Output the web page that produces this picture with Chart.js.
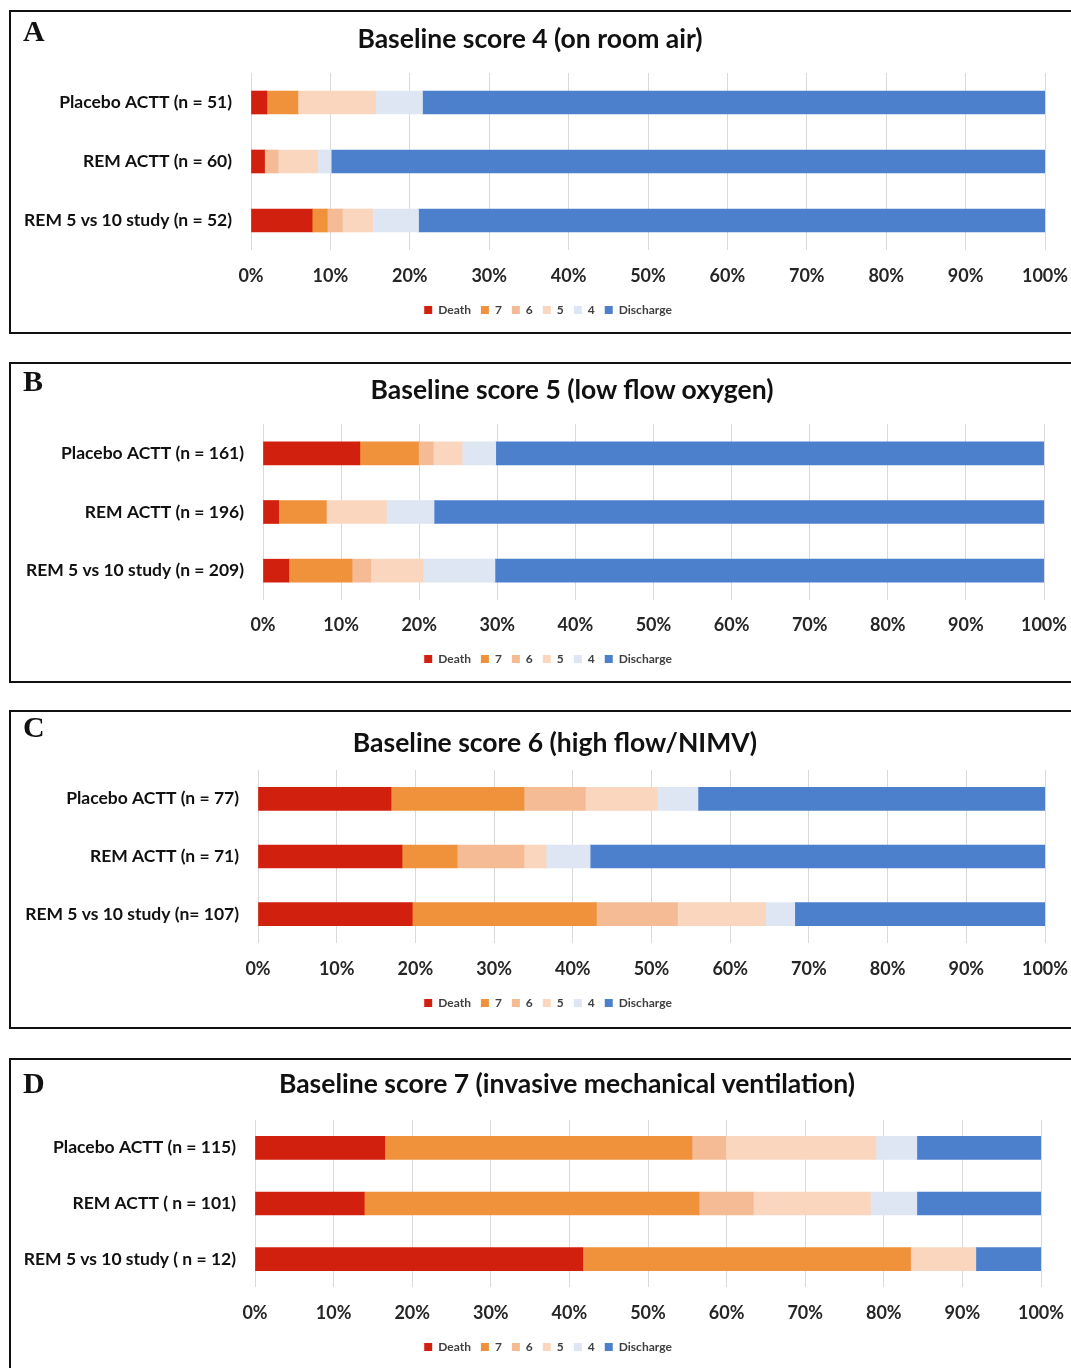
<!DOCTYPE html>
<html>
<head>
<meta charset="utf-8">
<script src="https://cdn.jsdelivr.net/npm/chart.js@4.4.1/dist/chart.umd.min.js"></script>
<style>
  body { margin: 0; width: 1071px; height: 1368px; overflow: hidden; background: #fff; position: relative; }
  .panel { position: absolute; left: 9px; width: 1090px; border: 2px solid #111; box-sizing: border-box; }
  .panel canvas { position: absolute; left: 0; top: 0; }
  .letter { position: absolute; font-family: "Liberation Serif", "Times New Roman", serif; font-weight: bold; font-size: 30px; color: #111; }
  .title { position: absolute; transform: translate(-50%, -50%); white-space: nowrap; font-family: Lato, "Open Sans", sans-serif; font-weight: bold; font-size: 26.5px; color: #111; }
</style>
</head>
<body>
<script>
// categories per panel
const categories = [
  ["Placebo ACTT (n = 51)", "REM ACTT (n = 60)", "REM 5 vs 10 study (n = 52)"],
  ["Placebo ACTT (n = 161)", "REM ACTT (n = 196)", "REM 5 vs 10 study (n = 209)"],
  ["Placebo ACTT (n = 77)", "REM ACTT (n = 71)", "REM 5 vs 10 study (n= 107)"],
  ["Placebo ACTT (n = 115)", "REM ACTT ( n = 101)", "REM 5 vs 10 study ( n = 12)"]
];
const titles = [
  "Baseline score 4 (on room air)",
  "Baseline score 5 (low flow oxygen)",
  "Baseline score 6 (high flow/NIMV)",
  "Baseline score 7 (invasive mechanical ventilation)"
];
const letters = ["A", "B", "C", "D"];
const seriesNames = ["Death", "7", "6", "5", "4", "Discharge"];

// percentages, one row per panel
const death     = [[2.0, 1.7, 7.7],    [12.4, 2.0, 3.3],  [16.9, 18.3, 19.6], [16.5, 13.9, 41.7]];
const score7    = [[3.9, 0, 1.9],      [7.5, 6.1, 8.1],   [16.9, 7.0, 23.4],  [39.1, 42.6, 41.7]];
const score6    = [[0, 1.7, 1.9],      [1.9, 0, 2.4],     [7.8, 8.5, 10.3],   [4.3, 6.9, 0]];
const score5    = [[9.8, 5.0, 3.8],    [3.7, 7.7, 6.7],   [9.1, 2.8, 11.2],   [19.1, 14.9, 8.3]];
const score4    = [[5.9, 1.7, 5.8],    [4.3, 6.1, 9.2],   [5.2, 5.6, 3.7],    [5.2, 5.9, 0]];
const discharge = [[78.4, 89.9, 78.9], [70.2, 78.1, 70.3], [44.1, 57.8, 31.8], [15.8, 15.8, 8.3]];

const tickValues = [0, 10, 20, 30, 40, 50, 60, 70, 80, 90, 100];

const colors = ["#D2200F", "#F0913C", "#F5BB94", "#FAD6BE", "#DEE6F4", "#4C80CD"];
const font = "Lato, 'Open Sans', sans-serif";

// layout of each panel (page pixels)
const canvasLeft = 11;
const canvasW = 1086;
const panels = [
  { top: 10,   bottom: 334,  padTop: 61, xh: 44, tickPad: 15, padBottom: 6,  plotL: 251, plotR: 1045, titleX: 530, titleY: 38,   letterY: 14 },
  { top: 362,  bottom: 683,  padTop: 60, xh: 43, tickPad: 14, padBottom: 6,  plotL: 263, plotR: 1044, titleX: 572, titleY: 389,  letterY: 364 },
  { top: 710,  bottom: 1029, padTop: 58, xh: 44, tickPad: 15, padBottom: 8,  plotL: 258, plotR: 1045, titleX: 555, titleY: 742,  letterY: 710 },
  { top: 1058, bottom: 1380, padTop: 60, xh: 44, tickPad: 15, padBottom: 15, plotL: 255, plotR: 1041, titleX: 567, titleY: 1083, letterY: 1066 }
];
const legendX = 548;

const series = [death, score7, score6, score5, score4, discharge];

// move the legend so it sits where the original has it
const legendShift = {
  id: "legendShift",
  afterLayout: function(chart) {
    var l = chart.legend;
    var dx = (legendX - canvasLeft) - (l.left + l.right) / 2;
    l.left += dx;
    l.right += dx;
  }
};

panels.forEach(function(p, i) {
  var div = document.createElement("div");
  div.className = "panel";
  div.style.top = p.top + "px";
  div.style.height = (p.bottom - p.top) + "px";
  document.body.appendChild(div);

  var h = p.bottom - p.top - 4;
  var canvas = document.createElement("canvas");
  canvas.width = canvasW;
  canvas.height = h;
  canvas.style.width = canvasW + "px";
  canvas.style.height = h + "px";
  div.appendChild(canvas);

  var letter = document.createElement("div");
  letter.className = "letter";
  letter.textContent = letters[i];
  letter.style.left = "23px";
  letter.style.top = p.letterY + "px";
  document.body.appendChild(letter);

  var title = document.createElement("div");
  title.className = "title";
  title.textContent = titles[i];
  title.style.left = p.titleX + "px";
  title.style.top = p.titleY + "px";
  document.body.appendChild(title);

  new Chart(canvas.getContext("2d"), {
    type: "bar",
    data: {
      labels: categories[i],
      datasets: seriesNames.map(function(name, k) {
        return {
          label: name,
          data: series[k][i],
          backgroundColor: colors[k],
          borderWidth: 0,
          barThickness: 23
        };
      })
    },
    options: {
      indexAxis: "y",
      responsive: false,
      animation: false,
      layout: { padding: { top: p.padTop, bottom: p.padBottom, left: 0, right: canvasW - (p.plotR - canvasLeft) } },
      plugins: {
        title: { display: false },
        tooltip: { enabled: false },
        legend: {
          position: "bottom",
          labels: {
            boxWidth: 8,
            boxHeight: 8,
            padding: 10,
            color: "#404040",
            font: { family: font, size: 12, weight: "bold" }
          }
        }
      },
      scales: {
        x: {
          stacked: true,
          min: 0,
          max: 100,
          afterBuildTicks: function(axis) {
            axis.ticks = tickValues.map(function(v) { return { value: v }; });
          },
          afterFit: function(axis) { axis.height = p.xh; },
          ticks: {
            padding: p.tickPad,
            color: "#262626",
            font: { family: font, size: 18, weight: "bold" },
            callback: function(v) { return v + "%"; }
          },
          grid: { color: "#D9D9D9", drawTicks: false },
          border: { display: false }
        },
        y: {
          stacked: true,
          afterFit: function(axis) { axis.width = p.plotL - canvasLeft; },
          ticks: {
            padding: 19,
            color: "#111",
            font: { family: font, size: 17.5, weight: "bold" }
          },
          grid: { display: false, drawTicks: false },
          border: { display: false }
        }
      }
    },
    plugins: [legendShift]
  });
});
</script>
</body>
</html>
